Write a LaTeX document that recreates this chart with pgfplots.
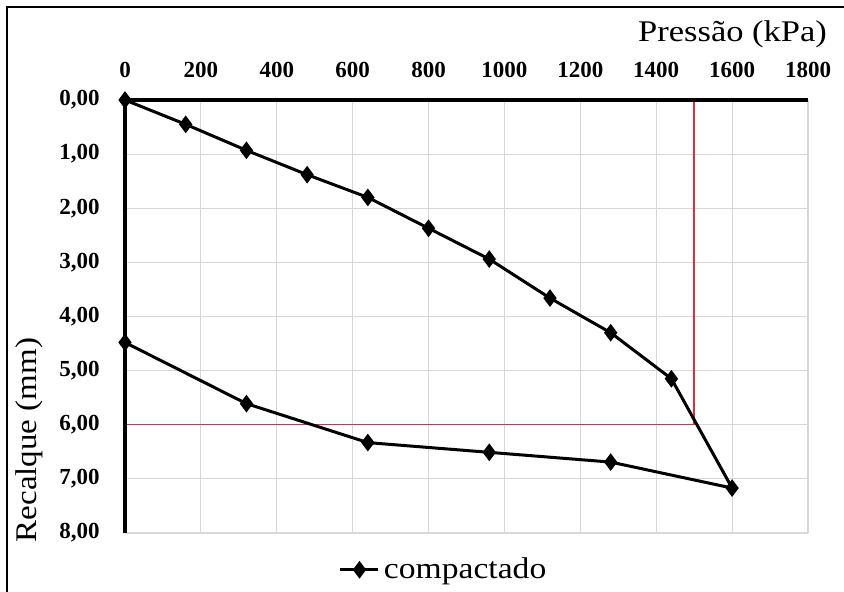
\documentclass[border=0pt]{standalone}
\usepackage{fontspec}
\setmainfont{Liberation Serif}
\usepackage{graphicx}
\usepackage{pgfplots}
\pgfplotsset{compat=1.18}
\definecolor{gridgray}{RGB}{215,215,215}
\definecolor{refred}{RGB}{222,45,60}
\begin{document}
\begin{tikzpicture}[x=0.5pt,y=-0.5pt]
\begin{axis}[
  scale only axis, width=341.5pt, height=216.5pt,
  xmin=0, xmax=1800, ymin=0, ymax=8, y dir=reverse,
  xtick={0,200,...,1800}, ytick={0,1,...,8},
  grid=major, grid style={gridgray, line width=0.6pt},
  major tick length=0pt,
  axis line style={draw=none},
  clip=false,
  xticklabel pos=right,
  /pgf/number format/assume math mode=true,
  ticklabel style={font=\fontsize{11.5}{14}\selectfont\bfseries},
  xticklabel style={/pgf/number format/1000 sep={}, inner sep=0pt, anchor=south, yshift=11pt},
  yticklabel style={/pgf/number format/fixed, /pgf/number format/fixed zerofill, /pgf/number format/precision=2, /pgf/number format/use comma, inner sep=0pt, anchor=east, xshift=-12.5pt},
  legend style={draw=none, fill=none, font=\fontsize{15}{18}\selectfont, at={(axis description cs:0.468,-0.085)}, anchor=center, inner sep=0pt},
  legend image code/.code={\draw[mark repeat=2,mark phase=2,#1] plot coordinates {(0pt,0pt)(9.5pt,0pt)(19pt,0pt)};},
]
\coordinate (TL) at (axis cs:0,0);
\addplot[refred, line width=0.7pt, forget plot] coordinates {(0,6) (1500,6) (1500,0)};
\draw[black, line width=2pt] (axis cs:0,0) -- (axis cs:1800,0);
\draw[black, line width=2pt] (axis cs:0,0) -- (axis cs:0,8);
\addplot[black, line width=1.5pt, mark=diamond*, mark size=3.2pt] coordinates {
 (0,0) (160,0.45) (320,0.93) (480,1.38) (640,1.80) (800,2.37) (960,2.94)
 (1120,3.66) (1280,4.30) (1440,5.15) (1600,7.17)
 (1280,6.69) (960,6.51) (640,6.33) (320,5.61) (0,4.48)
};
\addlegendentry{\scalebox{1.12}[1]{compactado}}
\end{axis}
\begin{scope}[shift={(TL)}, xshift=-62.5pt, yshift=50pt]
\pgfresetboundingbox
\useasboundingbox (0,0) rectangle (844,592);
\draw[line width=1pt] (7,600) -- (7,7) -- (850,7);
\node[anchor=east, font=\fontsize{15}{18}\selectfont] at (834,34) {\scalebox{1.15}[1]{Pressão (kPa)}};
\node[rotate=90, font=\fontsize{15}{18}\selectfont] at (29,440) {\scalebox{1.1}[1]{Recalque (mm)}};
\end{scope}
\end{tikzpicture}
\end{document}
